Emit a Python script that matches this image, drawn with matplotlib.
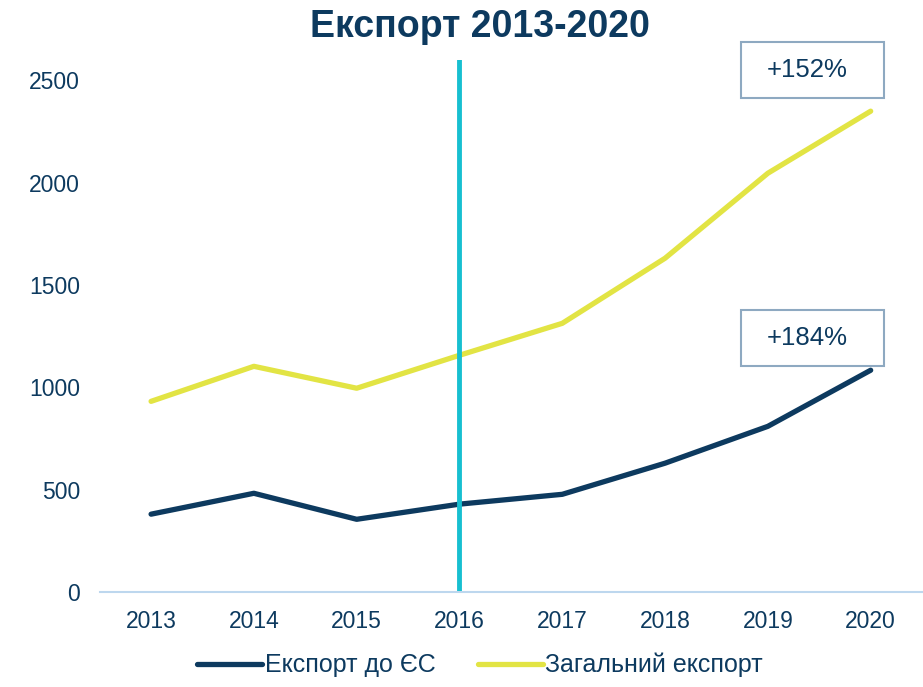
import numpy as np
from matplotlib import pyplot as plt
from matplotlib.patches import Rectangle

years = ['2013', '2014', '2015', '2016', '2017', '2018', '2019', '2020']
eu_export = [381, 483, 356, 430, 478, 630, 810, 1084]
total_export = [932, 1103, 996, 1157, 1313, 1631, 2046, 2349]
y_ticks = [0, 500, 1000, 1500, 2000, 2500]
label_eu = 'Експорт до ЄС'
label_total = 'Загальний експорт'
growth_eu = '+184%'
growth_total = '+152%'

plt.rcParams['font.family'] = ['Liberation Sans', 'DejaVu Sans']

navy = '#0d3a5f'
yellow = '#e2e444'
cyan = '#17bfd0'

fig = plt.figure(figsize=(9.23, 6.87), dpi=100)
ax = fig.add_axes([0.108, 0.138, 0.891, 0.775])
x = np.arange(len(years))

ax.plot(x, eu_export, color=navy, lw=3.8, solid_capstyle='round', label=label_eu)
ax.plot(x, total_export, color=yellow, lw=3.8, solid_capstyle='round', label=label_total)
ax.axvline(3, color=cyan, lw=3.5)

ax.set_xlim(-0.5, len(years) - 0.5)
ax.set_ylim(0, 2600)
ax.set_xticks(x)
ax.set_xticklabels(years)
ax.set_yticks(y_ticks)
ax.tick_params(length=0, labelsize=16.5, labelcolor=navy)
ax.tick_params(axis='x', pad=13)
ax.tick_params(axis='y', pad=14)
for s in ['top', 'right', 'left']:
	ax.spines[s].set_visible(False)
ax.spines['bottom'].set_color('#bdd7ee')
ax.spines['bottom'].set_linewidth(1.5)

# growth boxes (fixed size, like the slide's text frames)
def growth_box(cx, cy, txt):
	w, h = 1.39, 272
	ax.add_patch(Rectangle((cx - w / 2, cy - h / 2), w, h, fc='white', ec='#8ea9c1',
		lw=1.5, zorder=3, clip_on=False))
	ax.text(cx - 0.05, cy, txt, fontsize=18.5, color=navy, ha='center', va='center',
		zorder=4, clip_on=False)

growth_box(6.43, total_export[-1] + 200, growth_total)
growth_box(6.43, eu_export[-1] + 156, growth_eu)

fig.text(0.52, 0.960, 'Експорт 2013-2020', fontsize=27, fontweight='bold', color=navy,
	ha='center', va='center')

leg = fig.legend(loc='center', bbox_to_anchor=(0.52, 0.032), ncol=2, frameon=False,
	fontsize=18, handlelength=2.6, handletextpad=0.1, columnspacing=1.7)
for t in leg.get_texts():
	t.set_color(navy)

fig.savefig('out.png', dpi=100)
